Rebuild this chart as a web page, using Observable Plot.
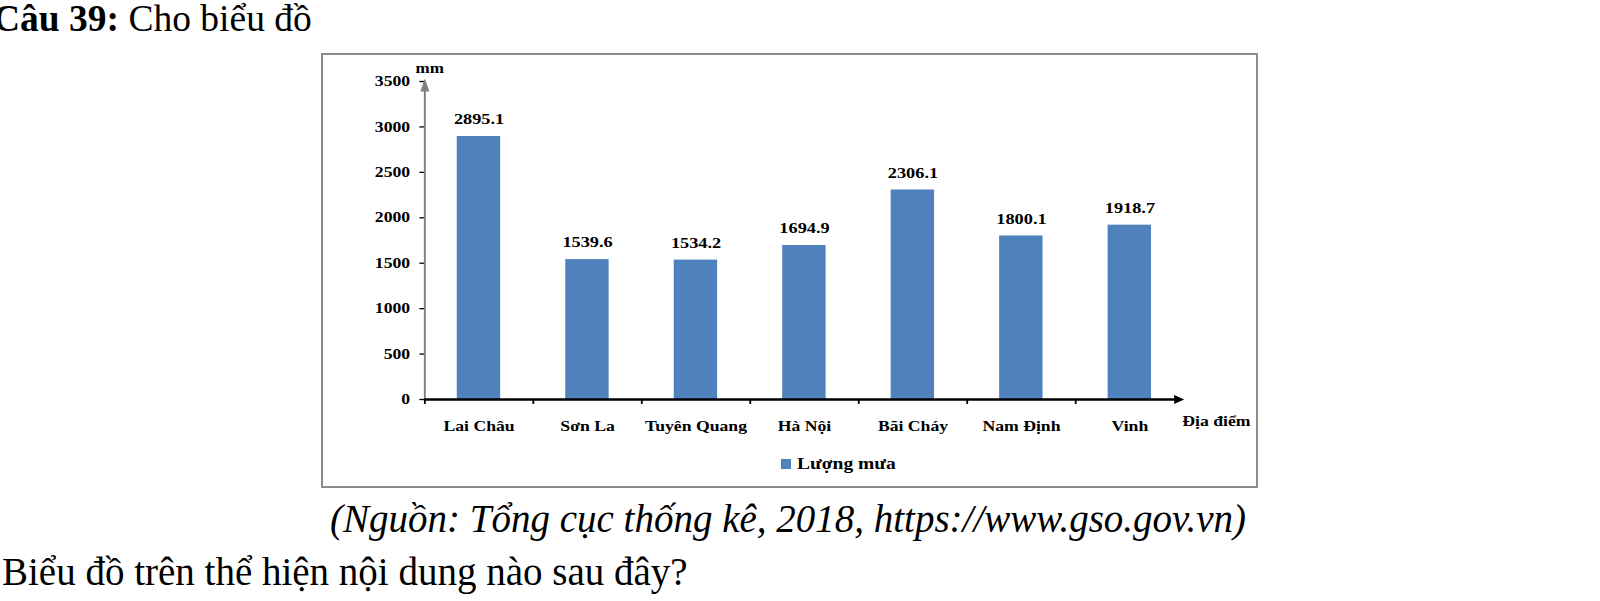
<!DOCTYPE html>
<html>
<head>
<meta charset="utf-8">
<script src="https://cdn.jsdelivr.net/npm/d3@7"></script>
<script src="https://cdn.jsdelivr.net/npm/@observablehq/plot@0.6"></script>
<style>
  html, body { margin: 0; padding: 0; background: #fff; }
  body { width: 1600px; height: 601px; overflow: hidden; position: relative; font-family: "Liberation Serif", "Times New Roman", serif; color: #000; }
  .line { position: absolute; white-space: nowrap; line-height: 1; }
  #title { left: -7px; top: 0px; font-size: 37.5px; }
  #source { left: 330px; top: 499px; font-size: 39px; font-style: italic; }
  #question { left: 2px; top: 552px; font-size: 39px; }
  #box { position: absolute; left: 321px; top: 53px; width: 937px; height: 435px; box-sizing: border-box; border: 2px solid #8c8c8c; background: #fff; }
  #chart { position: absolute; left: 0; top: 0; }
  #legend { position: absolute; left: 458px; top: 400px; height: 18px; display: flex; align-items: center; }
  #legend .sw { width: 10px; height: 10px; display: inline-block; }
  #legend .lab { margin-left: 6px; font-weight: bold; font-size: 16px; line-height: 18px; display: inline-block; transform: scaleX(1.22); transform-origin: left center; white-space: nowrap; }
</style>
</head>
<body>
<div id="title" class="line"><b>Câu 39:</b> Cho biểu đồ</div>
<div id="box"><div id="chart"></div><div id="legend"></div></div>
<div id="source" class="line"></div>
<div id="question" class="line"></div>
<script>
// ---- data ----
const categories = ["Lai Châu", "Sơn La", "Tuyên Quang", "Hà Nội", "Bãi Cháy", "Nam Định", "Vinh"];
const rainfall = [2895.1, 1539.6, 1534.2, 1694.9, 2306.1, 1800.1, 1918.7];
const yTicks = [0, 500, 1000, 1500, 2000, 2500, 3000, 3500];
const seriesName = "Lượng mưa";
const yUnit = "mm";
const xTitle = "Địa điểm";
const sourceText = "(Nguồn: Tổng cục thống kê, 2018, https://www.gso.gov.vn)";
const questionText = "Biểu đồ trên thể hiện nội dung nào sau đây?";

const barColor = "#4f81bd";
const FONT = '"Liberation Serif", "Times New Roman", serif';

document.getElementById("source").textContent = sourceText;
document.getElementById("question").textContent = questionText;

const data = categories.map((name, i) => ({name, i, value: rainfall[i]}));

// arrowhead symbols (tip at the dot position)
const upArrow = {draw(ctx) { ctx.moveTo(0, 0); ctx.lineTo(-3.7, 13); ctx.lineTo(3.7, 13); ctx.closePath(); }};
const rightArrow = {draw(ctx) { ctx.moveTo(0, 0); ctx.lineTo(-8.2, -4.5); ctx.lineTo(-8.2, 4.5); ctx.closePath(); }};

const stretch = 1.2196;          // the reference chart image is stretched horizontally
const displayW = 933, H = 395;
const W = Math.round(displayW / stretch);
const n = categories.length;
const yMax = yTicks[yTicks.length - 1];

const svg = Plot.plot({
  width: W,
  height: H,
  marginLeft: 83,
  marginRight: 59.4,
  marginTop: 26,
  marginBottom: 51,
  x: {type: "linear", domain: [0, n], axis: null},
  y: {domain: [0, yMax], axis: null},
  style: {fontFamily: FONT, fontWeight: "bold", color: "#000", background: "transparent", overflow: "visible"},
  marks: [
    Plot.rectY(data, {x1: d => d.i + 0.3, x2: d => d.i + 0.7, y: "value", fill: barColor}),
    Plot.axisY({ticks: yTicks, tickSize: 4, tickPadding: 8, tickFormat: d3.format("d"), fontSize: 14.5, label: null, strokeWidth: 1.3}),
    Plot.axisX({ticks: categories.map((_, i) => i + 0.5), tickSize: 0, tickPadding: 21.5, tickFormat: t => categories[Math.floor(t)], fontSize: 14.5, label: null}),
    Plot.axisX({ticks: d3.range(n), tickSize: 5, tickFormat: () => "", label: null, strokeWidth: 1.5}),
    Plot.ruleX([0], {y1: 0, y2: yMax, stroke: "#7f7f7f", strokeWidth: 1.6}),
    Plot.ruleY([0], {x1: 0, x2: n - 0.05, stroke: "#000", strokeWidth: 2.5}),
    Plot.dot([yMax], {x: () => 0, y: d => d, dy: -3, symbol: upArrow, r: 5, fill: "#7f7f7f"}),
    Plot.dot([n], {x: d => d, y: () => 0, symbol: rightArrow, r: 5, fill: "#000"}),
    Plot.text(data, {x: d => d.i + 0.5, y: "value", text: d => d.value.toFixed(1), dy: -17, fontSize: 15}),
    Plot.text([yUnit], {text: d => d, frameAnchor: "top-left", dx: -7.6, dy: -18, textAnchor: "start", fontSize: 14}),
    Plot.text([xTitle], {text: d => d, frameAnchor: "bottom-right", dx: -1.5, dy: 26, textAnchor: "start", fontSize: 14.5})
  ]
});
svg.setAttribute("width", displayW);
svg.setAttribute("height", H);
svg.setAttribute("preserveAspectRatio", "none");
svg.style.width = displayW + "px";
svg.style.height = H + "px";
svg.style.maxWidth = "none";
document.getElementById("chart").appendChild(svg);

// legend (HTML, below the SVG inside the frame)
const legend = document.getElementById("legend");
const sw = document.createElement("span");
sw.className = "sw";
sw.style.background = barColor;
const lab = document.createElement("span");
lab.className = "lab";
lab.textContent = seriesName;
legend.appendChild(sw);
legend.appendChild(lab);
</script>
</body>
</html>
